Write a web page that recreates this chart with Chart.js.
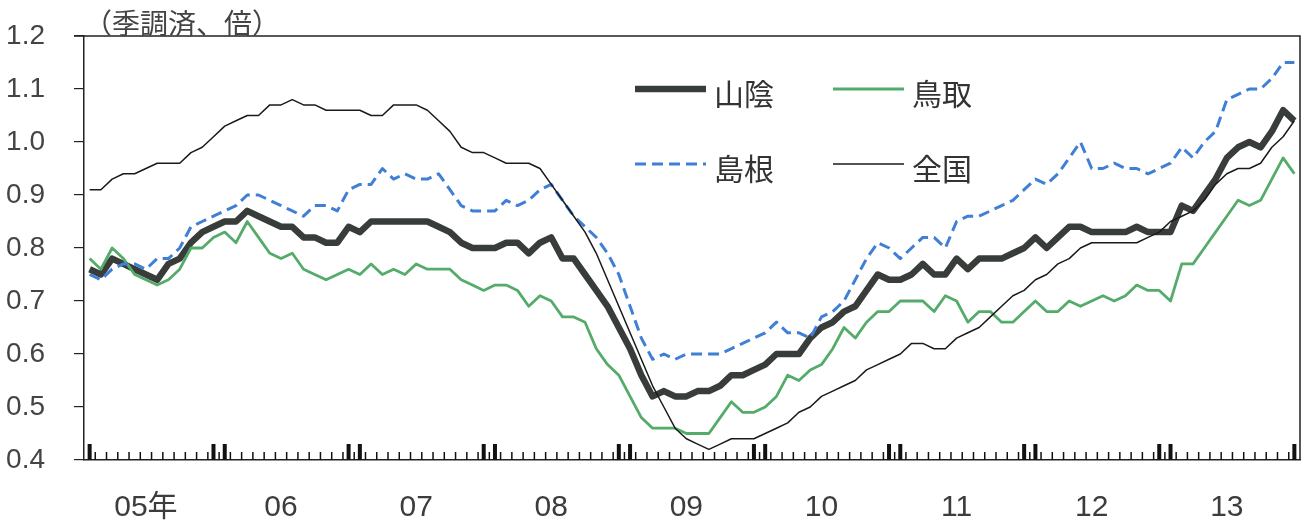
<!DOCTYPE html>
<html lang="ja">
<head>
<meta charset="UTF-8">
<title>有効求人倍率（山陰・鳥取・島根・全国）</title>
<script src="https://cdn.jsdelivr.net/npm/chart.js"></script>
<style>
    html, body { margin: 0; padding: 0; background: #fff; }
    #wrap { width: 1307px; height: 522px; position: relative; }
</style>
</head>
<body>
<div id="wrap"><canvas id="ratioChart"></canvas></div>
<script>
// months Jan 2005 .. Dec 2013
const months = [];
for (let y = 2005; y <= 2013; y++) {
    for (let m = 1; m <= 12; m++) months.push(y + '/' + m);
}
const yearLabels = ['05年', '06', '07', '08', '09', '10', '11', '12', '13'];
const yTickValues = [0.4, 0.5, 0.6, 0.7, 0.8, 0.9, 1.0, 1.1, 1.2];

const sanin = [
    0.76, 0.75, 0.78, 0.77, 0.76, 0.75, 0.74, 0.77, 0.78, 0.81, 0.83, 0.84,
    0.85, 0.85, 0.87, 0.86, 0.85, 0.84, 0.84, 0.82, 0.82, 0.81, 0.81, 0.84,
    0.83, 0.85, 0.85, 0.85, 0.85, 0.85, 0.85, 0.84, 0.83, 0.81, 0.80, 0.80,
    0.80, 0.81, 0.81, 0.79, 0.81, 0.82, 0.78, 0.78, 0.75, 0.72, 0.69, 0.65,
    0.61, 0.56, 0.52, 0.53, 0.52, 0.52, 0.53, 0.53, 0.54, 0.56, 0.56, 0.57,
    0.58, 0.60, 0.60, 0.60, 0.63, 0.65, 0.66, 0.68, 0.69, 0.72, 0.75, 0.74,
    0.74, 0.75, 0.77, 0.75, 0.75, 0.78, 0.76, 0.78, 0.78, 0.78, 0.79, 0.80,
    0.82, 0.80, 0.82, 0.84, 0.84, 0.83, 0.83, 0.83, 0.83, 0.84, 0.83, 0.83,
    0.83, 0.88, 0.87, 0.90, 0.93, 0.97, 0.99, 1.00, 0.99, 1.02, 1.06, 1.04
];
const tottori = [
    0.78, 0.76, 0.80, 0.78, 0.75, 0.74, 0.73, 0.74, 0.76, 0.80, 0.80, 0.82,
    0.83, 0.81, 0.85, 0.82, 0.79, 0.78, 0.79, 0.76, 0.75, 0.74, 0.75, 0.76,
    0.75, 0.77, 0.75, 0.76, 0.75, 0.77, 0.76, 0.76, 0.76, 0.74, 0.73, 0.72,
    0.73, 0.73, 0.72, 0.69, 0.71, 0.70, 0.67, 0.67, 0.66, 0.61, 0.58, 0.56,
    0.52, 0.48, 0.46, 0.46, 0.46, 0.45, 0.45, 0.45, 0.48, 0.51, 0.49, 0.49,
    0.50, 0.52, 0.56, 0.55, 0.57, 0.58, 0.61, 0.65, 0.63, 0.66, 0.68, 0.68,
    0.70, 0.70, 0.70, 0.68, 0.71, 0.70, 0.66, 0.68, 0.68, 0.66, 0.66, 0.68,
    0.70, 0.68, 0.68, 0.70, 0.69, 0.70, 0.71, 0.70, 0.71, 0.73, 0.72, 0.72,
    0.70, 0.77, 0.77, 0.80, 0.83, 0.86, 0.89, 0.88, 0.89, 0.93, 0.97, 0.94
];
const shimane = [
    0.75, 0.74, 0.76, 0.77, 0.77, 0.76, 0.78, 0.78, 0.80, 0.84, 0.85, 0.86,
    0.87, 0.88, 0.90, 0.90, 0.89, 0.88, 0.87, 0.86, 0.88, 0.88, 0.87, 0.91,
    0.92, 0.92, 0.95, 0.93, 0.94, 0.93, 0.93, 0.94, 0.91, 0.88, 0.87, 0.87,
    0.87, 0.89, 0.88, 0.89, 0.91, 0.92, 0.89, 0.86, 0.84, 0.82, 0.79, 0.75,
    0.69, 0.63, 0.59, 0.60, 0.59, 0.60, 0.60, 0.60, 0.60, 0.61, 0.62, 0.63,
    0.64, 0.66, 0.64, 0.64, 0.63, 0.67, 0.68, 0.70, 0.74, 0.78, 0.81, 0.80,
    0.78, 0.80, 0.82, 0.82, 0.80, 0.85, 0.86, 0.86, 0.87, 0.88, 0.89, 0.91,
    0.93, 0.92, 0.94, 0.97, 1.00, 0.95, 0.95, 0.96, 0.95, 0.95, 0.94, 0.95,
    0.96, 0.99, 0.97, 1.00, 1.02, 1.08, 1.09, 1.10, 1.10, 1.12, 1.15, 1.15
];
const national = [
    0.91, 0.91, 0.93, 0.94, 0.94, 0.95, 0.96, 0.96, 0.96, 0.98, 0.99, 1.01,
    1.03, 1.04, 1.05, 1.05, 1.07, 1.07, 1.08, 1.07, 1.07, 1.06, 1.06, 1.06,
    1.06, 1.05, 1.05, 1.07, 1.07, 1.07, 1.06, 1.04, 1.02, 0.99, 0.98, 0.98,
    0.97, 0.96, 0.96, 0.96, 0.95, 0.92, 0.89, 0.86, 0.83, 0.79, 0.74, 0.69,
    0.64, 0.59, 0.54, 0.50, 0.46, 0.44, 0.43, 0.42, 0.43, 0.44, 0.44, 0.44,
    0.45, 0.46, 0.47, 0.49, 0.50, 0.52, 0.53, 0.54, 0.55, 0.57, 0.58, 0.59,
    0.60, 0.62, 0.62, 0.61, 0.61, 0.63, 0.64, 0.65, 0.67, 0.69, 0.71, 0.72,
    0.74, 0.75, 0.77, 0.78, 0.80, 0.81, 0.81, 0.81, 0.81, 0.81, 0.82, 0.83,
    0.85, 0.86, 0.87, 0.89, 0.92, 0.94, 0.95, 0.95, 0.96, 0.99, 1.01, 1.04
];

// thick ticks at first month, each Dec/Jan pair, and last month
const thickIdx = months.map((m, i) => i).filter(i =>
    i === 0 || i === months.length - 1 || /\/(12|1)$/.test(months[i]));

const latin = "'Liberation Sans', 'Noto Sans CJK JP', sans-serif";
const cjk = "'Noto Sans CJK JP', sans-serif";

// no extra room for edge labels, the layout padding decides the plot box
function noEdgePadding(s) {
    s.paddingTop = 0;
    s.paddingBottom = 0;
    s.paddingLeft = 0;
    s.paddingRight = 0;
}

const xTickMarks = {
    id: 'xTickMarks',
    afterDraw(chart) {
        const xs = chart.scales.x;
        const ctx = chart.ctx;
        const bottom = chart.chartArea.bottom;
        const step = xs.getPixelForValue(1) - xs.getPixelForValue(0);
        ctx.save();
        ctx.fillStyle = '#111';
        for (let i = 1; i < months.length; i++) {
            const bx = xs.getPixelForValue(i) - step / 2;
            ctx.fillRect(bx - 0.75, bottom - 8, 1.5, 8);
        }
        thickIdx.forEach(i => {
            const px = xs.getPixelForValue(i);
            ctx.fillRect(px - 2, bottom - 16, 4, 16);
        });
        ctx.restore();
    }
};

const frameAndText = {
    id: 'frameAndText',
    afterDraw(chart) {
        const ctx = chart.ctx;
        const a = chart.chartArea;
        ctx.save();
        ctx.strokeStyle = '#222';
        ctx.lineWidth = 1.5;
        ctx.beginPath();
        ctx.moveTo(a.left - 10, a.top);
        ctx.lineTo(a.right, a.top);
        ctx.lineTo(a.right, a.bottom);
        ctx.stroke();

        ctx.fillStyle = '#444';
        ctx.font = '28px ' + cjk;
        ctx.textBaseline = 'alphabetic';
        ctx.textAlign = 'left';
        ctx.fillText('（季調済、倍）', a.left, a.top - 2);

        // legend inside the plot
        const ds = chart.data.datasets;
        const spots = [
            { d: 0, x: 635, y: 89 },
            { d: 1, x: 833, y: 89 },
            { d: 2, x: 635, y: 164 },
            { d: 3, x: 833, y: 164 }
        ];
        spots.forEach(s => {
            const d = ds[s.d];
            ctx.strokeStyle = d.borderColor;
            ctx.lineWidth = d.borderWidth;
            ctx.setLineDash(d.borderDash || []);
            ctx.beginPath();
            ctx.moveTo(s.x, s.y);
            ctx.lineTo(s.x + 71, s.y);
            ctx.stroke();
            ctx.setLineDash([]);
            ctx.fillStyle = '#333';
            ctx.font = '30px ' + cjk;
            ctx.textBaseline = 'middle';
            ctx.fillText(d.label, s.x + 79, s.y + 5);
        });
        ctx.restore();
    }
};

new Chart(document.getElementById('ratioChart'), {
    type: 'line',
    data: {
        labels: months,
        datasets: [
            { label: '山陰', data: sanin, borderColor: '#383d3a', borderWidth: 6.5, order: 3 },
            { label: '鳥取', data: tottori, borderColor: '#55ab6a', borderWidth: 2.8, order: 2 },
            { label: '島根', data: shimane, borderColor: '#3f7fd6', borderWidth: 3, borderDash: [11, 6], order: 1 },
            { label: '全国', data: national, borderColor: '#1a1a1a', borderWidth: 1.5, order: 0 }
        ]
    },
    options: {
        responsive: true,
        maintainAspectRatio: false,
        animation: false,
        layout: { padding: { top: 36, right: 7, left: 0, bottom: 0 } },
        elements: {
            point: { radius: 0 },
            line: { tension: 0, borderJoinStyle: 'round', borderCapStyle: 'butt' }
        },
        plugins: {
            legend: { display: false },
            tooltip: { enabled: false },
            title: { display: false }
        },
        scales: {
            x: {
                type: 'category',
                offset: true,
                grid: { display: false, drawTicks: false },
                border: { display: true, color: '#222', width: 1.5 },
                ticks: {
                    autoSkip: false,
                    maxRotation: 0,
                    padding: 30,
                    color: '#3c3c3c',
                    font: { family: latin, size: 30 },
                    callback: (v, i) => (i % 12 === 5 ? yearLabels[Math.floor(i / 12)] : '')
                },
                afterFit: s => { s.height = 62; noEdgePadding(s); }
            },
            y: {
                min: 0.4,
                max: 1.2,
                grid: { drawOnChartArea: false, drawTicks: true, tickLength: 10, color: '#222', lineWidth: 1.2 },
                border: { display: true, color: '#222', width: 1.5 },
                ticks: {
                    padding: 29,
                    color: '#444',
                    font: { family: latin, size: 28 },
                    callback: v => v.toFixed(1)
                },
                afterBuildTicks: s => { s.ticks = yTickValues.map(v => ({ value: v })); },
                afterFit: s => { s.width = 84; noEdgePadding(s); }
            }
        }
    },
    plugins: [xTickMarks, frameAndText]
});
</script>
</body>
</html>
